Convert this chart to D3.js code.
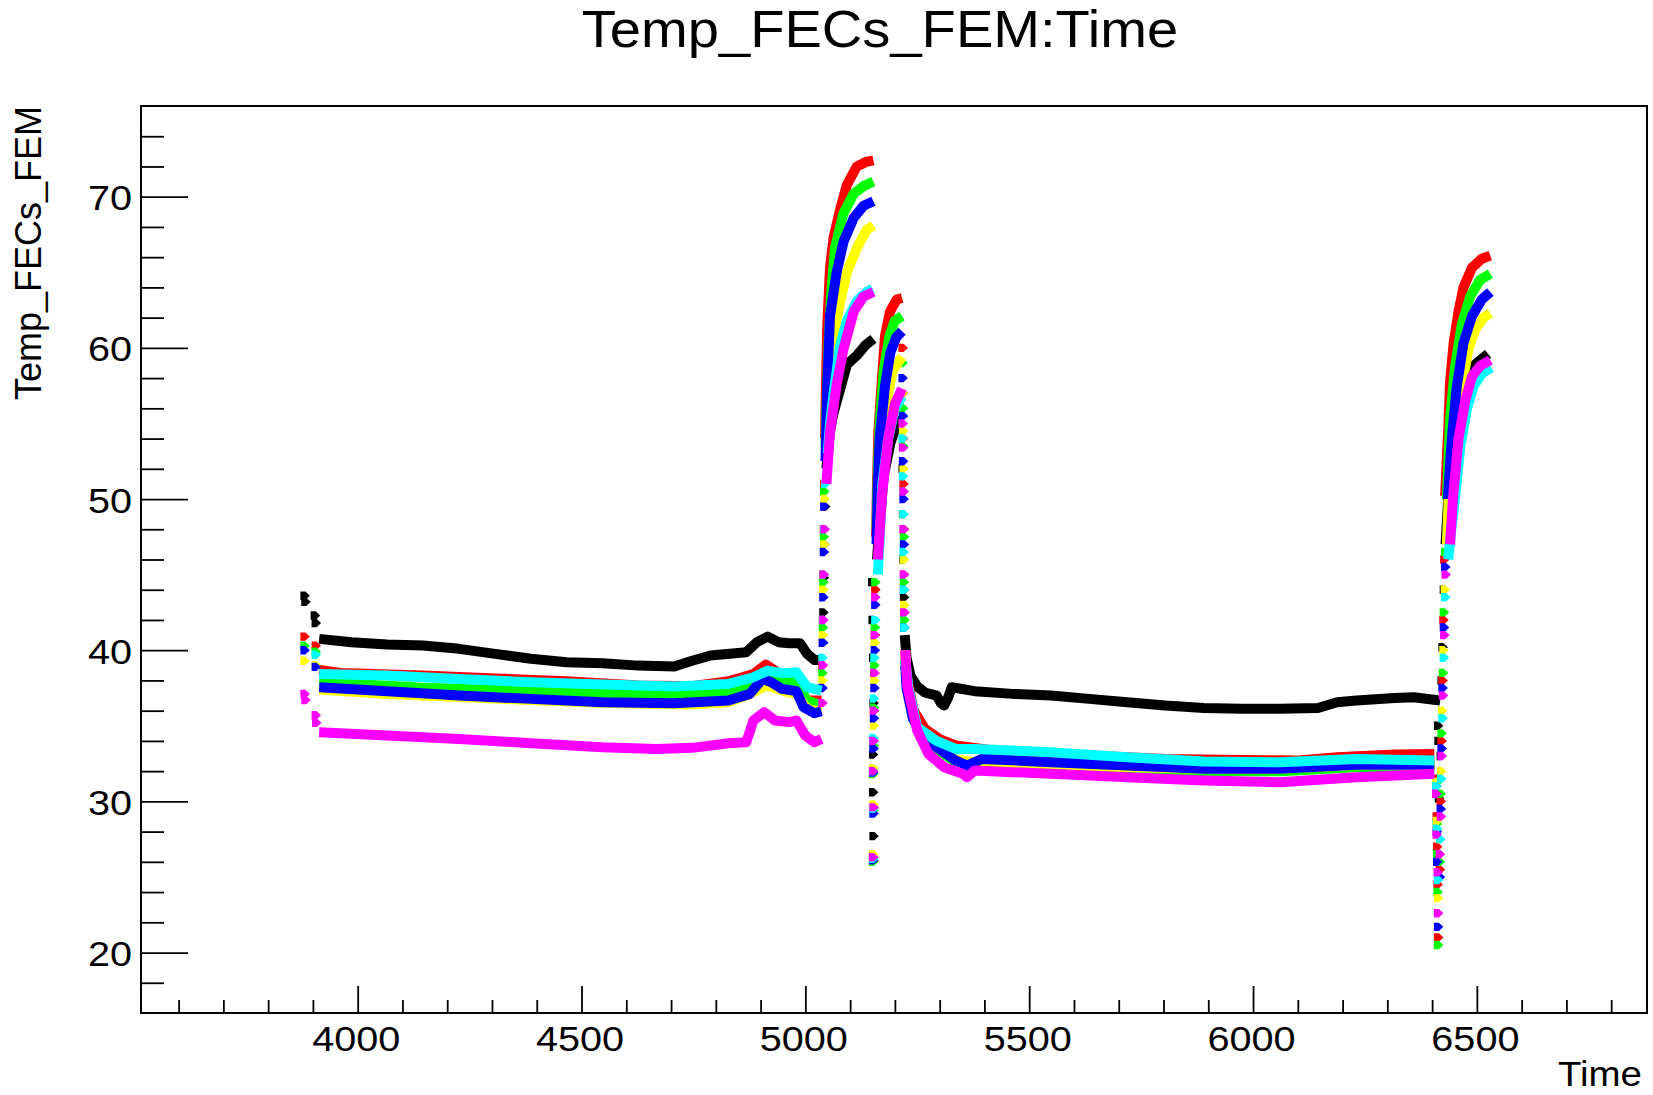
<!DOCTYPE html>
<html>
<head>
<meta charset="utf-8">
<script src="https://cdn.jsdelivr.net/npm/d3@7"></script>
<style>
  html, body { margin: 0; padding: 0; background: #ffffff; }
  svg { display: block; }
  text { font-family: "Liberation Sans", Arial, Helvetica, sans-serif; fill: #000; }
</style>
</head>
<body>
<svg id="chart" width="1653" height="1095"></svg>
<script>
// ---------------- DATA ----------------
const chartTitle = "Temp_FECs_FEM:Time";
const xTitle = "Time";
const yTitle = "Temp_FECs_FEM";
const xDomain = [3516, 6880];
const yDomain = [16, 76];
const xMajorTicks = [4000, 4500, 5000, 5500, 6000, 6500];
const xMinorTicks = [3600,3700,3800,3900,4100,4200,4300,4400,4600,4700,4800,4900,5100,5200,5300,5400,5600,5700,5800,5900,6100,6200,6300,6400,6600,6700,6800];
const yMajorTicks = [20, 30, 40, 50, 60, 70];
const yMinorTicks = [18,22,24,26,28,32,34,36,38,42,44,46,48,52,54,56,58,62,64,66,68,72,74];

// Each series: continuous runs [time, temp] (dense samples seen as a band) and isolated samples (dots)
const blackRuns = [
  [[3914,40.75],[3986,40.53],[4066,40.37],[4146,40.31],[4227,40.09],[4307,39.76],[4387,39.43],[4467,39.2],[4547,39.14],[4627,38.98],[4707,38.92],[4747,39.3],[4788,39.65],[4868,39.87],[4892,40.53],[4916,40.9],[4940,40.53],[4964,40.46],[4988,40.46],[5004,39.76],[5020,39.36],[5036,39.36]],
  [[5047,52],[5055,54.5],[5063,55.7],[5078,57.3],[5093,58.9],[5115,59.5],[5135,60.2],[5152,60.6]],
  [[5160,46],[5165,48],[5175,51.5],[5190,53.7],[5205,55.0],[5216,55.3]],
  [[5222,41],[5226,39.5],[5235,38.3],[5250,37.6],[5267,37.2],[5293,37.0],[5303,36.5],[5310,36.34],[5318,36.8],[5327,37.55],[5378,37.29],[5463,37.11],[5549,37.0],[5634,36.78],[5719,36.56],[5804,36.34],[5890,36.18],[5975,36.12],[6060,36.12],[6145,36.18],[6188,36.56],[6231,36.67],[6316,36.84],[6359,36.89],[6418,36.67]],
  [[6430,47],[6436,50],[6440,52.1],[6448,55.2],[6459,57.4],[6477,58.4],[6500,59.0],[6525,59.6]]
];
const blackDots = [[3882,43.6],[3884,43.2],[3905,42.3],[3907,41.8],
  [5040,40.5],[5041,42.5],[5042,44.8],[5043,47],[5045,49.5],
  [5150,44.5],[5151,42],[5152,39.5],[5153,36.5],[5152,33.1],[5152,30.6],[5153,27.7],
  [5218,52],[5219,49],[5220,46],[5221,43.5],
  [6414,35.0],[6415,34.0],[6416,30.2],[6417,29.0],[6420,33],[6422,38],[6424,40.2],[6427,44]];

const redRuns = [
  [[3914,38.7],[3962,38.5],[4146,38.32],[4267,38.17],[4467,37.95],[4627,37.66],[4747,37.62],[4828,37.95],[4884,38.43],[4912,39.05],[4932,38.65],[4964,38.0],[4980,37.9],[5000,36.67],[5036,36.67]],
  [[5044,54],[5046,57.5],[5049,61.5],[5055,65.3],[5063,67.3],[5078,69.2],[5093,70.8],[5115,72.0],[5135,72.3],[5152,72.4]],
  [[5158,47.5],[5160,51],[5163,54.4],[5170,57.5],[5178,60.8],[5189,62.4],[5204,63.2],[5216,63.3]],
  [[5223,40],[5225,38.5],[5242,36.0],[5267,34.8],[5301,34.1],[5336,33.7],[5463,33.2],[5634,33.03],[5804,32.81],[5975,32.74],[6103,32.7],[6188,32.92],[6316,33.1],[6405,33.14]],
  [[6429,50.2],[6436,54.6],[6440,57.7],[6448,60.3],[6459,62.4],[6470,64.0],[6489,65.3],[6511,65.9],[6530,66.1]]
];
const redDots = [[3882,40.9],[3907,40.3],
  [5039,39],[5040,42],[5041,45],[5042,48],[5043,51],
  [5152,26.3],[5153,29.6],[5152,32.0],[5153,34.0],[5154,36.0],[5155,38.5],[5156,41],[5157,44],
  [5218,60],[5219,57],[5219,54],[5220,51],[5221,48],[5221,45],[5222,42.5],
  [6410,31.5],[6411,29.0],[6412,27.0],[6413,24.5],[6414,21.0],[6418,25.5],[6420,30],[6422,34],[6424,38],[6426,42],[6428,46]];

const greenRuns = [
  [[3914,37.9],[4146,37.51],[4387,37.29],[4627,37.07],[4788,37.11],[4868,37.44],[4908,38.21],[4948,37.99],[4980,37.88],[5004,36.67],[5036,36.34]],
  [[5045,53.5],[5048,57],[5052,60.5],[5058,63.7],[5066,66.6],[5085,68.9],[5108,70.2],[5130,70.7],[5152,71.0]],
  [[5159,48],[5162,52],[5166,55],[5175,58.5],[5188,60.8],[5200,61.8],[5216,62.1]],
  [[5223,39.5],[5226,38],[5240,35.5],[5259,34.35],[5293,33.47],[5336,32.59],[5378,32.48],[5549,32.3],[5719,32.1],[5890,32.0],[6060,32.0],[6231,32.26],[6405,32.26]],
  [[6433,50],[6440,55.2],[6451,58.7],[6466,61.5],[6485,63.4],[6507,64.5],[6530,64.9]]
];
const greenDots = [[3882,40.3],[3907,39.9],
  [5039,38.5],[5040,41.5],[5041,44.5],[5042,47.5],[5043,50.5],
  [5152,26.0],[5153,29.4],[5152,31.8],[5153,33.7],[5154,36.2],[5155,39],[5156,41.5],[5157,44.5],
  [5218,59],[5219,56],[5219,53.5],[5220,50.5],[5221,47.5],[5221,44.5],[5222,42],
  [6410,31.2],[6411,28.5],[6412,26.5],[6413,24.0],[6414,20.5],[6418,26],[6420,30.5],[6422,34.5],[6425,38.5],[6427,42.5],[6430,46.5]];

const yellowRuns = [
  [[3914,37.4],[4066,37.11],[4307,36.8],[4547,36.5],[4747,36.4],[4828,36.56],[4868,37.0],[4912,37.66],[4948,37.33],[4980,37.11],[5004,36.12],[5036,35.9]],
  [[5047,53],[5052,56.5],[5063,60.8],[5078,63.1],[5093,65.0],[5115,66.6],[5137,67.8],[5152,68.1]],
  [[5160,47],[5165,50.5],[5170,53],[5182,56.5],[5195,58.5],[5216,59.4]],
  [[5223,40],[5226,38],[5240,35.5],[5259,34.45],[5293,33.6],[5336,32.75],[5378,32.6],[5549,32.45],[5719,32.25],[5890,32.15],[6060,32.15],[6231,32.4],[6405,32.4]],
  [[6433,47],[6437,50],[6448,54],[6466,57.4],[6481,59.9],[6496,61.2],[6515,62.0],[6530,62.3]]
];
const yellowDots = [[3882,39.3],[3907,39.0],
  [5039,38],[5040,41],[5041,44],[5043,47],[5044,50],
  [5152,26.5],[5153,29.8],[5152,32.2],[5154,35],[5155,38],[5156,40.5],[5157,43.5],
  [5218,57],[5219,54.5],[5220,52],[5220,49],[5221,46],[5222,43],
  [6410,31.3],[6412,28.7],[6414,23.6],[6418,27.5],[6421,32],[6423,36],[6426,40],[6429,44]];

const blueRuns = [
  [[3914,37.55],[4066,37.29],[4227,37.0],[4387,36.78],[4547,36.56],[4707,36.49],[4828,36.67],[4876,37.11],[4904,38.1],[4924,37.88],[4948,37.44],[4980,37.29],[4996,36.23],[5020,35.83],[5036,35.96]],
  [[5045,52.5],[5049,57.5],[5055,62.1],[5070,65.0],[5085,67.0],[5108,68.6],[5130,69.4],[5152,69.7]],
  [[5159,47],[5162,51],[5166,54],[5178,57.5],[5190,59.7],[5203,60.7],[5216,61.1]],
  [[5223,39],[5226,37.5],[5240,35.5],[5259,34.46],[5293,33.58],[5336,32.7],[5361,32.37],[5395,32.81],[5549,32.59],[5719,32.37],[5890,32.15],[6060,32.15],[6231,32.43],[6405,32.43]],
  [[6435,50],[6444,54.0],[6455,57.4],[6470,60.3],[6489,62.1],[6511,63.2],[6530,63.7]]
];
const blueDots = [[3882,40.0],[3907,38.9],
  [5039,37.5],[5040,40.5],[5041,43.5],[5042,46.5],[5043,49.5],
  [5152,26.1],[5153,29.2],[5152,31.9],[5153,33.5],[5154,35.5],[5155,37.5],[5156,40],[5157,43],
  [5218,58],[5219,55.5],[5219,52.5],[5220,50],[5221,47],[5221,44],[5222,41.5],
  [6410,31.0],[6411,28.0],[6412,26.0],[6414,21.7],[6418,25],[6420,29.5],[6422,33.5],[6424,37.5],[6427,41.5],[6430,45.5]];

const cyanRuns = [
  [[3914,38.43],[4066,38.32],[4227,38.1],[4387,37.88],[4547,37.73],[4707,37.6],[4828,37.77],[4884,38.21],[4916,38.65],[4948,38.48],[4980,38.54],[5004,37.55],[5036,37.33]],
  [[5050,53],[5055,55],[5063,57.0],[5078,60.2],[5093,61.8],[5115,63.1],[5137,63.7],[5150,63.9]],
  [[5162,45],[5172,51],[5185,54],[5200,56],[5216,56.8]],
  [[5223,39.5],[5230,37.5],[5250,34.9],[5293,34.0],[5336,33.47],[5378,33.47],[5549,33.25],[5719,32.92],[5890,32.63],[6060,32.59],[6231,32.81],[6405,32.7]],
  [[6436,46],[6443,48],[6451,50],[6463,53.5],[6478,56.0],[6493,57.5],[6511,58.3],[6532,58.7]]
];
const cyanDots = [[3907,39.7],
  [5039,39.5],[5040,42],[5042,45],[5043,48],[5045,51],
  [5152,26.2],[5153,29.5],[5152,32.0],[5153,34.2],[5154,36.8],[5155,39.5],[5157,42],
  [5218,54],[5219,51.5],[5220,49],[5220,46.5],[5221,44],[5222,41.5],
  [6410,31.0],[6412,28.2],[6414,24.8],[6419,27.5],[6421,31.5],[6424,35.5],[6427,39.5],[6430,43.5]];

const magentaRuns = [
  [[3914,34.57],[4066,34.35],[4227,34.13],[4387,33.85],[4547,33.58],[4667,33.47],[4747,33.54],[4828,33.85],[4868,33.91],[4884,35.35],[4908,35.9],[4932,35.35],[4964,35.24],[4980,35.35],[5000,34.35],[5020,33.91],[5036,34.13]],
  [[5047,51],[5055,54.4],[5070,57.6],[5085,59.9],[5108,62.4],[5130,63.4],[5152,63.7]],
  [[5162,46],[5172,50.5],[5185,54],[5200,56.3],[5216,57.3]],
  [[5223,40],[5228,37.55],[5250,34.68],[5275,33.14],[5310,32.26],[5352,31.82],[5361,31.6],[5378,32.04],[5549,31.82],[5719,31.6],[5890,31.38],[6060,31.27],[6231,31.6],[6405,31.82]],
  [[6440,47],[6447,50.2],[6459,54.0],[6474,56.5],[6489,58.1],[6507,58.8],[6530,59.2]]
];
const magentaDots = [[3882,37.1],[3884,36.7],[3907,35.7],[3908,35.2],
  [5039,36.5],[5040,39],[5041,42],[5042,45],[5044,48],
  [5152,26.3],[5153,29.6],[5152,32.0],[5153,34.0],[5154,36.0],[5155,38.5],[5156,41],[5157,43.5],
  [5218,55],[5219,53.4],[5220,50.5],[5220,48],[5221,45],[5222,42.5],
  [6410,30.5],[6411,27.8],[6413,25.3],[6414,22.6],[6418,26.5],[6420,29],[6422,33],[6425,37],[6428,41],[6431,45]];

const seriesNames  = ["black", "red", "green", "yellow", "blue", "cyan", "magenta"];
const seriesColors = ["#000000", "#ff0000", "#00ff00", "#ffff00", "#0000ff", "#00ffff", "#ff00ff"];
const seriesRuns   = [blackRuns, redRuns, greenRuns, yellowRuns, blueRuns, cyanRuns, magentaRuns];
const seriesDots   = [blackDots, redDots, greenDots, yellowDots, blueDots, cyanDots, magentaDots];

// ---------------- LAYOUT ----------------
const frame = { left: 141, right: 1647, top: 106, bottom: 1013 };
const stretch = 1.1;   // reference glyphs are horizontally widened

const svg = d3.select("#chart");
const x = d3.scaleLinear().domain(xDomain).range([frame.left, frame.right]);
const y = d3.scaleLinear().domain(yDomain).range([frame.bottom, frame.top]);

svg.append("rect")
  .attr("x", frame.left).attr("y", frame.top)
  .attr("width", frame.right - frame.left).attr("height", frame.bottom - frame.top)
  .attr("fill", "#ffffff");

const clipId = "plotclip";
svg.append("clipPath").attr("id", clipId).append("rect")
  .attr("x", frame.left).attr("y", frame.top)
  .attr("width", frame.right - frame.left).attr("height", frame.bottom - frame.top);

const dataG = svg.append("g").attr("clip-path", `url(#${clipId})`);
const line = d3.line().x(d => x(d[0])).y(d => y(d[1])).curve(d3.curveLinear);
const markerPath = "M-4.5,-4.2 L0.5,-4.2 L5,0 L0.5,4.2 L-4.5,4.2 Z";

seriesNames.forEach((name, i) => {
  const g = dataG.append("g").attr("class", "series-" + name);
  g.selectAll("path.run").data(seriesRuns[i]).join("path")
    .attr("class", "run")
    .attr("d", line)
    .attr("fill", "none")
    .attr("stroke", seriesColors[i])
    .attr("stroke-width", 10)
    .attr("stroke-linejoin", "round")
    .attr("stroke-linecap", "butt");
  g.selectAll("path.dot").data(seriesDots[i]).join("path")
    .attr("class", "dot")
    .attr("d", markerPath)
    .attr("transform", d => `translate(${x(d[0])},${y(d[1])})`)
    .attr("fill", seriesColors[i]);
});

// Axes (ticks pointing inward, ROOT style)
const yMajorAxis = d3.axisLeft(y).tickValues(yMajorTicks).tickSize(-47).tickPadding(9).tickFormat(d3.format("d"));
const yMinorAxis = d3.axisLeft(y).tickValues(yMinorTicks).tickSize(-23).tickFormat("");
const xMajorAxis = d3.axisBottom(x).tickValues(xMajorTicks).tickSize(-27).tickPadding(0).tickFormat(d3.format("d"));
const xMinorAxis = d3.axisBottom(x).tickValues(xMinorTicks).tickSize(-13).tickFormat("");

function styleAxis(g) {
  g.select(".domain").remove();
  g.selectAll(".tick line").attr("stroke", "#000").attr("stroke-width", 1.8);
}

svg.append("g").attr("transform", `translate(${frame.left},0)`).call(yMinorAxis).call(styleAxis);
const gyMaj = svg.append("g").attr("transform", `translate(${frame.left},0)`).call(yMajorAxis).call(styleAxis);
gyMaj.selectAll(".tick text")
  .attr("x", null).attr("dy", null)
  .attr("transform", `translate(-9,13) scale(${stretch},1)`)
  .attr("text-anchor", "end")
  .style("font-size", "36px")
  .style("font-family", "'Liberation Sans', Arial, sans-serif")
  .attr("fill", "#000");

svg.append("g").attr("transform", `translate(0,${frame.bottom})`).call(xMinorAxis).call(styleAxis);
const gxMaj = svg.append("g").attr("transform", `translate(0,${frame.bottom})`).call(xMajorAxis).call(styleAxis);
gxMaj.selectAll(".tick text")
  .attr("y", null).attr("dy", null)
  .attr("transform", `translate(-2,38) scale(${stretch},1)`)
  .attr("text-anchor", "middle")
  .style("font-size", "36px")
  .style("font-family", "'Liberation Sans', Arial, sans-serif")
  .attr("fill", "#000");

// Frame border
svg.append("rect")
  .attr("x", frame.left).attr("y", frame.top)
  .attr("width", frame.right - frame.left).attr("height", frame.bottom - frame.top)
  .attr("fill", "none").attr("stroke", "#000").attr("stroke-width", 2);

// Title
svg.append("text")
  .attr("transform", `translate(880,47) scale(${stretch},1)`)
  .attr("text-anchor", "middle")
  .style("font-size", "51px")
  .text(chartTitle);

// X axis title (right aligned)
svg.append("text")
  .attr("transform", `translate(1642,1086) scale(${stretch},1)`)
  .attr("text-anchor", "end")
  .style("font-size", "35px")
  .text(xTitle);

// Y axis title (rotated, aligned with top of axis)
svg.append("text")
  .attr("transform", `translate(41,${frame.top}) rotate(-90)`)
  .attr("text-anchor", "end")
  .style("font-size", "36px")
  .text(yTitle);
</script>
</body>
</html>
